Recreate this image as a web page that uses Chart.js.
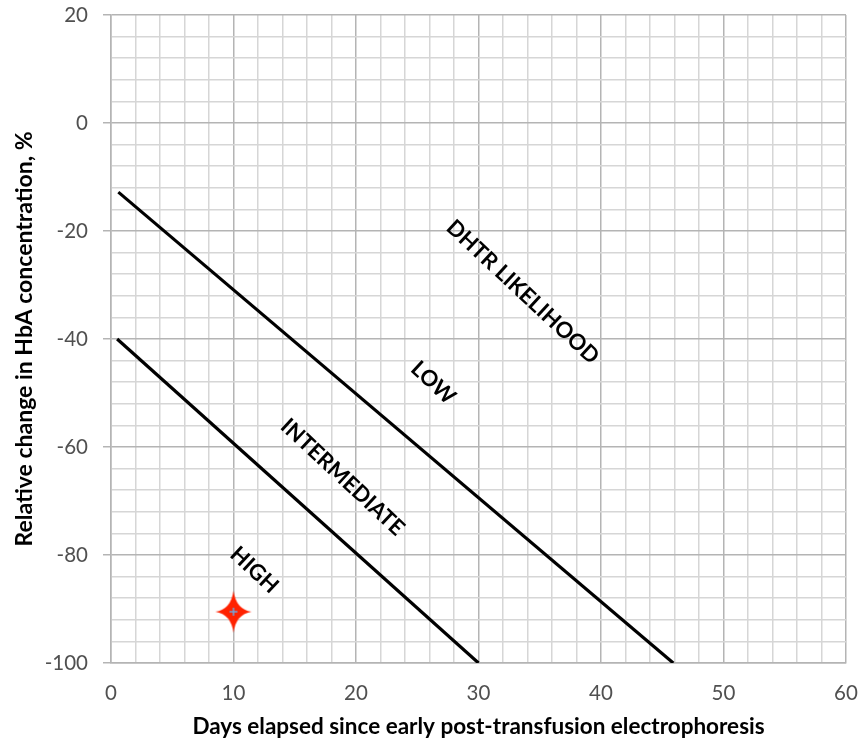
<!DOCTYPE html>
<html><head><meta charset="utf-8">
<script src="https://cdn.jsdelivr.net/npm/chart.js@4/dist/chart.umd.min.js"></script>
<style>html,body{margin:0;padding:0;background:#fff}#wrap{width:861px;height:743px;position:relative}</style>
</head><body><div id="wrap"><canvas id="c"></canvas></div>
<script>
// ---- data ----
const lowBoundaryX = [0.6, 45.9];
const lowBoundaryY = [-12.8, -100];
const highBoundaryX = [0.5, 30];
const highBoundaryY = [-40, -100];
const patientX = [10];
const patientY = [-90.5];
const zoneLabels = ['DHTR LIKELIHOOD', 'LOW', 'INTERMEDIATE', 'HIGH'];
const zoneLabelX = [33.6, 26.3, 18.9, 11.7];
const zoneLabelY = [-31.3, -48.1, -65.6, -82.8];
const xTitle = 'Days elapsed since early post-transfusion electrophoresis';
const yTitle = 'Relative change in HbA concentration, %';

const FONT = 'Lato, "Noto Sans", sans-serif';

function pts(xs, ys) { return xs.map((x, i) => ({x: x, y: ys[i]})); }

function makeStar() {
  const c = document.createElement('canvas');
  c.width = 40; c.height = 44;
  const g = c.getContext('2d');
  const cx = 20, cy = 22;
  g.fillStyle = '#ff2200';
  g.beginPath();
  g.moveTo(cx, cy - 21);
  g.quadraticCurveTo(cx + 2.5, cy - 2.5, cx + 18, cy);
  g.quadraticCurveTo(cx + 2.5, cy + 2.5, cx, cy + 21);
  g.quadraticCurveTo(cx - 2.5, cy + 2.5, cx - 18, cy);
  g.quadraticCurveTo(cx - 2.5, cy - 2.5, cx, cy - 21);
  g.closePath();
  g.fill();
  g.strokeStyle = '#6fa8dc';
  g.lineWidth = 1.5;
  g.beginPath();
  g.moveTo(cx - 4, cy); g.lineTo(cx + 4, cy);
  g.moveTo(cx, cy - 4); g.lineTo(cx, cy + 4);
  g.stroke();
  return c;
}

const zoneLabelPlugin = {
  id: 'zoneLabels',
  afterDatasetsDraw(chart) {
    const g = chart.ctx, xs = chart.scales.x, ys = chart.scales.y;
    g.save();
    g.fillStyle = '#000';
    g.font = 'bold 22px ' + FONT;
    g.textAlign = 'center';
    g.textBaseline = 'middle';
    zoneLabels.forEach((t, i) => {
      const px = xs.getPixelForValue(zoneLabelX[i]);
      const py = ys.getPixelForValue(zoneLabelY[i]);
      g.save();
      g.translate(px, py);
      g.rotate(43 * Math.PI / 180);
      g.fillText(t, 0, 0);
      g.restore();
    });
    g.restore();
  }
};

const MINOR = '#d6d6d6', MAJOR = '#b4b4b4';

new Chart(document.getElementById('c'), {
  type: 'scatter',
  data: {
    datasets: [
      {data: pts(lowBoundaryX, lowBoundaryY), showLine: true, borderColor: '#000', borderWidth: 3.2, pointRadius: 0},
      {data: pts(highBoundaryX, highBoundaryY), showLine: true, borderColor: '#000', borderWidth: 3.2, pointRadius: 0},
      {data: pts(patientX, patientY), showLine: false, pointStyle: makeStar(), pointRadius: 10}
    ]
  },
  options: {
    responsive: true,
    maintainAspectRatio: false,
    animation: false,
    layout: {padding: {top: 15, right: 15, left: 0, bottom: 0}},
    plugins: {legend: {display: false}, tooltip: {enabled: false}},
    scales: {
      x: {
        type: 'linear', min: 0, max: 60,
        afterFit(s) { s.height = 80; s.paddingLeft = 0; s.paddingRight = 0; },
        ticks: {
          stepSize: 2, autoSkip: false, maxRotation: 0,
          color: '#505050', font: {family: FONT, size: 20.5}, padding: 10,
          callback: v => (v % 10 === 0 ? v : '')
        },
        grid: {
          color: c => (c.tick && c.tick.value % 10 === 0 ? MAJOR : MINOR),
          lineWidth: 1.5, tickLength: 8, tickColor: 'rgba(0,0,0,0)'
        },
        border: {display: true, color: MAJOR, width: 1.5},
        title: {display: true, text: xTitle, color: '#000', font: {family: FONT, size: 22.5, weight: 'bold'}, padding: {top: 0, bottom: 3}}
      },
      y: {
        type: 'linear', min: -100, max: 20,
        afterFit(s) { s.width = 111; s.paddingTop = 0; s.paddingBottom = 0; },
        ticks: {
          stepSize: 4, autoSkip: false,
          color: '#505050', font: {family: FONT, size: 20.5}, padding: 15,
          callback: v => (v % 20 === 0 ? v : '')
        },
        grid: {
          color: c => (c.tick && c.tick.value % 20 === 0 ? MAJOR : MINOR),
          lineWidth: 1.5, tickLength: 8,
          tickColor: c => (c.tick && c.tick.value % 20 === 0 ? MAJOR : 'rgba(0,0,0,0)')
        },
        border: {display: true, color: MAJOR, width: 1.5},
        title: {display: true, text: yTitle, color: '#000', font: {family: FONT, size: 23, weight: 'bold'}, padding: {top: 11, bottom: 0}}
      }
    }
  },
  plugins: [zoneLabelPlugin]
});
</script>
</body></html>
